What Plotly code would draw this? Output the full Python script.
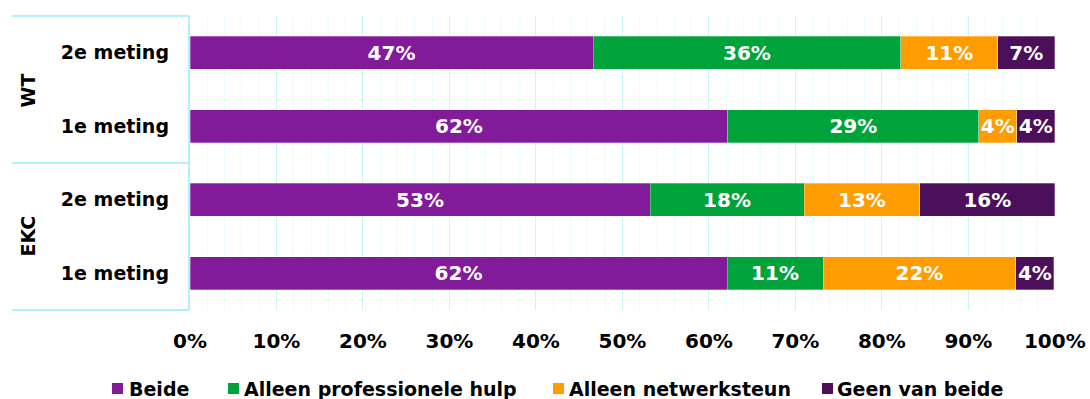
import plotly.graph_objects as go

# Category rows, bottom to top
groups = ["EKC", "EKC", "WT", "WT"]
rows = ["1e meting", "2e meting", "1e meting", "2e meting"]

# Shares per answer (percent of respondents), same order as rows
beide = [62.1, 53.2, 62.2, 46.6]
professioneel = [11.1, 17.8, 29.0, 35.6]
netwerk = [22.3, 13.4, 4.4, 11.2]
geen = [4.4, 15.6, 4.4, 6.6]

series_names = ["Beide", "Alleen professionele hulp", "Alleen netwerksteun", "Geen van beide"]
series_values = [beide, professioneel, netwerk, geen]
series_colors = ["#821b99", "#00a33a", "#ff9c00", "#4c105b"]

x_ticks = list(range(0, 101, 10))
x_tick_labels = [f"{t}%" for t in x_ticks]

FONT = "DejaVu Sans, Verdana, sans-serif"
LINE = "#b6effc"

W, H = 1090, 399
ML, MR, MT, MB = 190, 35, 16, 89
PW, PH = W - ML - MR, H - MT - MB


def px_x(x):
    return (x - ML) / PW


def px_y(y):
    return (H - MB - y) / PH


ypos = list(range(len(rows)))

fig = go.Figure()
for name, vals, col in zip(series_names, series_values, series_colors):
    fig.add_trace(go.Bar(
        y=ypos, x=vals, name=name, orientation="h",
        marker=dict(color=col, line=dict(color="rgba(255,255,255,0.5)", width=0.6)),
        width=0.45,
        texttemplate="%{x:.0f}%", textposition="inside", insidetextanchor="middle",
        textfont=dict(family=FONT, size=20, color="white", weight="bold"),
        showlegend=False, cliponaxis=False,
    ))

shapes = []
annotations = []

# frame lines of the grouped category axis
for yy in (16, 163, 310):
    shapes.append(dict(type="line", xref="paper", yref="paper",
                       x0=px_x(12), x1=px_x(189.5), y0=px_y(yy), y1=px_y(yy),
                       line=dict(color=LINE, width=2)))
shapes.append(dict(type="line", xref="paper", yref="paper",
                   x0=px_x(189), x1=px_x(189), y0=px_y(16), y1=px_y(310),
                   line=dict(color=LINE, width=2)))

# group labels
for label, yc in (("WT", 91), ("EKC", 236)):
    annotations.append(dict(xref="paper", yref="paper", x=px_x(27.5), y=px_y(yc),
                            text=f"<b>{label}</b>", textangle=-90, showarrow=False,
                            font=dict(family=FONT, size=19, color="black"),
                            xanchor="center", yanchor="middle"))

# legend
legend_items = [(112, 130), (228, 245), (553, 570), (822, 838)]
for (sq, tx), name, col in zip(legend_items, series_names, series_colors):
    shapes.append(dict(type="rect", xref="paper", yref="paper",
                       x0=px_x(sq), x1=px_x(sq + 11), y0=px_y(394), y1=px_y(383),
                       fillcolor=col, line=dict(width=0)))
    annotations.append(dict(xref="paper", yref="paper", x=px_x(tx - 3), y=px_y(388.5),
                            text=f"<b>{name}</b>", showarrow=False,
                            font=dict(family=FONT, size=19, color="black"),
                            xanchor="left", yanchor="middle"))

fig.update_layout(
    width=W, height=H,
    margin=dict(l=ML, r=MR, t=MT, b=MB, autoexpand=False),
    paper_bgcolor="white", plot_bgcolor="white",
    barmode="stack", showlegend=False,
    uniformtext=dict(minsize=20, mode="show"),
    font=dict(family=FONT, size=19, color="black"),
    shapes=shapes, annotations=annotations,
    xaxis=dict(
        range=[0, 100.02], tickvals=x_ticks, ticktext=x_tick_labels,
        showgrid=True, gridcolor="#c9f5ff", gridwidth=1,
        minor=dict(dtick=2, showgrid=True, gridcolor="#e8fbff", gridwidth=1),
        zeroline=False, showline=False, ticks="",
        tickfont=dict(family=FONT, size=20, color="black", weight="bold"),
        ticklabelstandoff=17, fixedrange=True, automargin=False,
    ),
    yaxis=dict(
        range=[-0.5, 3.5], tickvals=ypos, ticktext=rows,
        showgrid=False, zeroline=False, showline=False, ticks="",
        tickfont=dict(family=FONT, size=19, color="black", weight="bold"),
        ticklabelstandoff=20, fixedrange=True, automargin=False,
    ),
)

fig.write_html("out.html")
